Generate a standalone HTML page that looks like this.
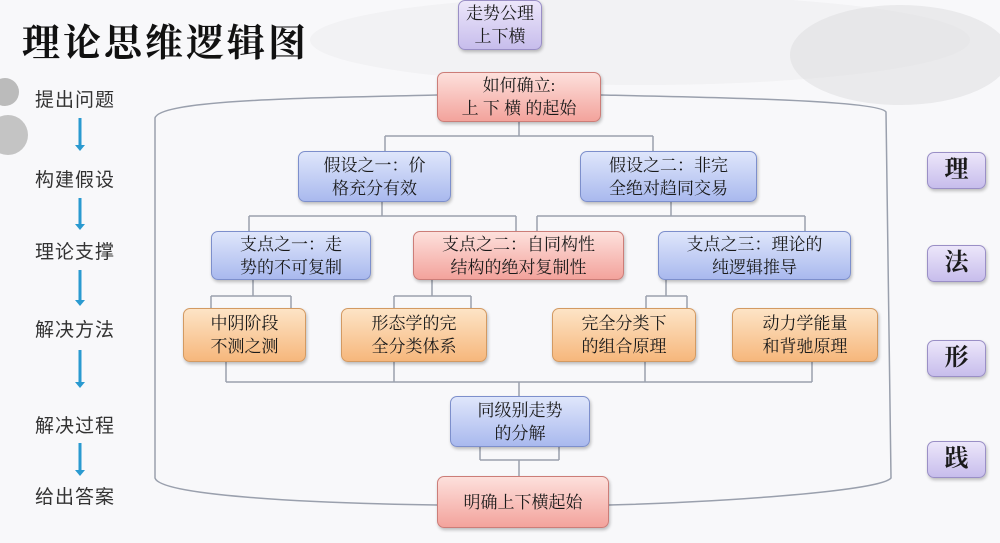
<!DOCTYPE html>
<html><head><meta charset="utf-8"><style>
body{margin:0;width:1000px;height:543px;overflow:hidden;background:#f8f8fa;font-family:"Liberation Serif","Noto Serif CJK SC",serif;position:relative}
.b{position:absolute;border-radius:7px;display:flex;align-items:center;justify-content:center;text-align:center;font-size:17px;line-height:23px;color:#1a1a1a;box-sizing:border-box;box-shadow:1px 2px 3px rgba(0,0,0,.25)}
.blue{background:linear-gradient(#dfe6fb,#a9b9ee);border:1.5px solid #7d8fcc}
.red{background:linear-gradient(#fde0dc,#f3a39c);border:1.5px solid #cc7d78}
.org{background:linear-gradient(#fde4c6,#f6b77c);border:1.5px solid #d39a62}
.pur{background:linear-gradient(#ece6fa,#c7bdec);border:1.5px solid #9a8fc6}
.l{position:absolute;font-size:19px;color:#333;font-family:"Liberation Sans","Noto Sans CJK SC",sans-serif;letter-spacing:1px}
</style></head><body>
<svg width="1000" height="543" style="position:absolute;left:0;top:0">
<ellipse cx="640" cy="40" rx="330" ry="45" fill="#ececee" opacity=".5"/>
<ellipse cx="900" cy="55" rx="110" ry="50" fill="#dcdcde" opacity=".5"/>
<circle cx="5" cy="92" r="14" fill="#bbb"/><circle cx="8" cy="135" r="20" fill="#c4c4c4"/>
<g fill="none" stroke="#9aa0ad" stroke-width="1.5">
<path d="M437 95 C300 98 160 100 155 118 L155 478 C160 495 300 503 437 505"/>
<path d="M601 95 C700 97 880 100 886 112 L891 478 C880 492 700 503 609 505"/>
<path d="M519 122V136M385 136H653M385 136V151M653 136V151"/>
<path d="M382 202V216M249 216H516M249 216V231M516 216V231"/>
<path d="M671 202V216M537 216H805M537 216V231M805 216V231"/>
<path d="M253 280V296M211 296H291M211 296V308M291 296V308"/>
<path d="M432 280V296M394 296H471M394 296V308M471 296V308"/>
<path d="M666 280V296M646 296H687M646 296V308M687 296V308"/>
<path d="M226 362V382M394 362V382M645 362V382M812 362V382M226 382H812M519 382V396"/>
<path d="M480 447V460M559 447V460M480 460H559M519 460V476"/>
</g>
<g stroke="#2a9ad0" stroke-width="3">
<path d="M80 118V145M80 198V224M80 270V300M80 350V382M80 443V470"/>
</g>
<g fill="#2a9ad0"><path d="M75 145h10l-5 6z"/><path d="M75 224h10l-5 6z"/><path d="M75 300h10l-5 6z"/><path d="M75 382h10l-5 6z"/><path d="M75 470h10l-5 6z"/></g>
</svg>
<div style="position:absolute;left:22px;top:12px;font-size:38px;font-weight:bold;color:#111;letter-spacing:3px">理论思维逻辑图</div>
<div class="l" style="left:35px;top:85px">提出问题</div>
<div class="l" style="left:35px;top:165px">构建假设</div>
<div class="l" style="left:35px;top:237px">理论支撑</div>
<div class="l" style="left:35px;top:315px">解决方法</div>
<div class="l" style="left:35px;top:411px">解决过程</div>
<div class="l" style="left:35px;top:482px">给出答案</div>
<div class="b pur" style="left:458px;top:0;width:84px;height:50px">走势公理<br>上下横</div>
<div class="b red" style="left:437px;top:72px;width:164px;height:50px">如何确立:<br>上 下 横 的起始</div>
<div class="b blue" style="left:298px;top:151px;width:153px;height:51px">假设之一：价<br>格充分有效</div>
<div class="b blue" style="left:580px;top:151px;width:177px;height:51px">假设之二：非完<br>全绝对趋同交易</div>
<div class="b blue" style="left:211px;top:231px;width:160px;height:49px">支点之一：走<br>势的不可复制</div>
<div class="b red" style="left:413px;top:231px;width:211px;height:49px">支点之二：自同构性<br>结构的绝对复制性</div>
<div class="b blue" style="left:658px;top:231px;width:193px;height:49px">支点之三：理论的<br>纯逻辑推导</div>
<div class="b org" style="left:183px;top:308px;width:123px;height:54px">中阴阶段<br>不测之测</div>
<div class="b org" style="left:341px;top:308px;width:146px;height:54px">形态学的完<br>全分类体系</div>
<div class="b org" style="left:552px;top:308px;width:144px;height:54px">完全分类下<br>的组合原理</div>
<div class="b org" style="left:732px;top:308px;width:146px;height:54px">动力学能量<br>和背驰原理</div>
<div class="b blue" style="left:450px;top:396px;width:140px;height:51px">同级别走势<br>的分解</div>
<div class="b red" style="left:437px;top:476px;width:172px;height:52px">明确上下横起始</div>
<div class="b pur" style="left:927px;top:152px;width:59px;height:37px;font-size:24px;font-weight:bold">理</div>
<div class="b pur" style="left:927px;top:245px;width:59px;height:37px;font-size:24px;font-weight:bold">法</div>
<div class="b pur" style="left:927px;top:340px;width:59px;height:37px;font-size:24px;font-weight:bold">形</div>
<div class="b pur" style="left:927px;top:441px;width:59px;height:37px;font-size:24px;font-weight:bold">践</div>
</body></html>
